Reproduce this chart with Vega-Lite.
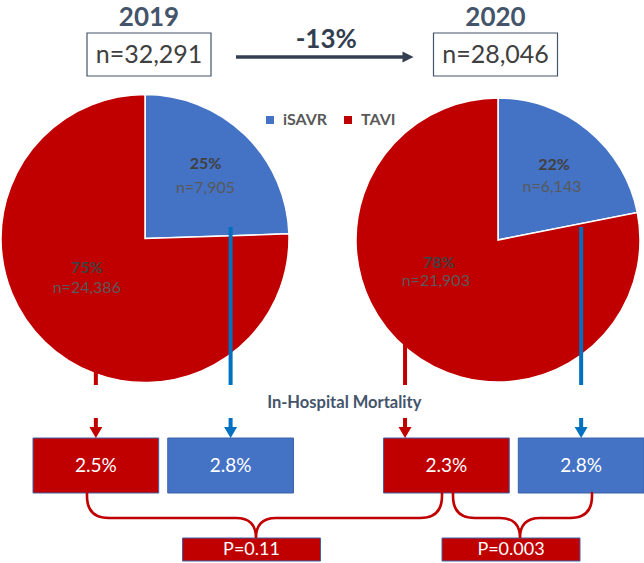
{
  "$schema": "https://vega.github.io/schema/vega-lite/v6.json",
  "width": 644,
  "height": 563,
  "padding": 0,
  "autosize": {"type": "none"},
  "background": "white",
  "config": {"view": {"stroke": null}, "font": "Lato", "axis": {"disable": true}},
  "datasets": {
    "years": [{"year": 2019, "total": 32291}, {"year": 2020, "total": 28046}],
    "change": [{"from": 2019, "to": 2020, "label": "-13%"}],
    "procedures": [
      {"year": 2019, "procedure": "iSAVR", "n": 7905, "share": 0.25, "mortality": 0.028},
      {"year": 2019, "procedure": "TAVI", "n": 24386, "share": 0.75, "mortality": 0.025},
      {"year": 2020, "procedure": "iSAVR", "n": 6143, "share": 0.22, "mortality": 0.028},
      {"year": 2020, "procedure": "TAVI", "n": 21903, "share": 0.78, "mortality": 0.023}
    ],
    "tests": [
      {"comparison": "TAVI 2019 vs 2020", "p": 0.11},
      {"comparison": "TAVI vs iSAVR 2020", "p": 0.003}
    ],
    "notes": [{"label": "In-Hospital Mortality"}]
  },
  "resolve": {"scale": {"x": "independent", "y": "independent"}},
  "layer": [
    {
      "layer": [
        {
          "data": {"name": "procedures"},
          "transform": [{"filter": "datum.year == 2019"}],
          "mark": {"type": "arc", "outerRadius": 144, "stroke": "white", "strokeWidth": 1.5},
          "encoding": {
            "x": {"field": "year", "type": "ordinal", "scale": {"type": "point", "domain": [2019, 2020], "range": [145, 498], "padding": 0}},
            "y": {"field": "year", "type": "ordinal", "scale": {"type": "point", "domain": [2019, 2020], "range": [238.5, 240], "padding": 0}},
            "theta": {"field": "n", "type": "quantitative", "stack": "normalize"},
            "color": {
              "field": "procedure", "type": "nominal",
              "scale": {"domain": ["iSAVR", "TAVI"], "range": ["#4472c4", "#c00000"]},
              "legend": {"title": null, "orient": "none", "legendX": 262, "legendY": 112, "direction": "horizontal", "symbolType": "square", "symbolSize": 64, "symbolStrokeWidth": 0, "labelFontSize": 16, "labelFontWeight": "bold", "labelColor": "#595959", "labelFont": "Lato", "columnPadding": 12, "labelOffset": 5}
            },
            "order": {"field": "procedure", "sort": "descending"}
          }
        },
        {
          "data": {"name": "procedures"},
          "transform": [{"filter": "datum.year == 2020"}],
          "mark": {"type": "arc", "outerRadius": 142, "stroke": "white", "strokeWidth": 1.5},
          "encoding": {
            "x": {"field": "year", "type": "ordinal", "scale": {"type": "point", "domain": [2019, 2020], "range": [145, 498], "padding": 0}},
            "y": {"field": "year", "type": "ordinal", "scale": {"type": "point", "domain": [2019, 2020], "range": [238.5, 240], "padding": 0}},
            "theta": {"field": "n", "type": "quantitative", "stack": "normalize"},
            "color": {"field": "procedure", "type": "nominal", "scale": {"domain": ["iSAVR", "TAVI"], "range": ["#4472c4", "#c00000"]}},
            "order": {"field": "procedure", "sort": "descending"}
          }
        },
        {
          "data": {"name": "procedures"},
          "transform": [{"filter": "datum.year == 2019"}],
          "mark": {"type": "text", "radius": 87, "dy": -12, "fontSize": 16, "fontWeight": "bold", "color": "#404040", "baseline": "middle"},
          "encoding": {
            "x": {"field": "year", "type": "ordinal", "scale": {"type": "point", "domain": [2019, 2020], "range": [145, 498], "padding": 0}},
            "y": {"field": "year", "type": "ordinal", "scale": {"type": "point", "domain": [2019, 2020], "range": [238.5, 240], "padding": 0}},
            "theta": {"field": "n", "type": "quantitative", "stack": "normalize"},
            "order": {"field": "procedure", "sort": "descending"},
            "text": {"condition": {"test": "datum.procedure == 'iSAVR'", "field": "share", "type": "quantitative", "format": ".0%"}, "value": ""}
          }
        },
        {
          "data": {"name": "procedures"},
          "transform": [{"filter": "datum.year == 2019"}],
          "mark": {"type": "text", "radius": 87, "dy": 12, "fontSize": 16, "color": "#595959", "baseline": "middle", "text": {"expr": "datum.procedure == 'iSAVR' ? 'n=' + format(datum.n, ',') : ''"}},
          "encoding": {
            "x": {"field": "year", "type": "ordinal", "scale": {"type": "point", "domain": [2019, 2020], "range": [145, 498], "padding": 0}},
            "y": {"field": "year", "type": "ordinal", "scale": {"type": "point", "domain": [2019, 2020], "range": [238.5, 240], "padding": 0}},
            "theta": {"field": "n", "type": "quantitative", "stack": "normalize"},
            "order": {"field": "procedure", "sort": "descending"}
          }
        },
        {
          "data": {"name": "procedures"},
          "transform": [{"filter": "datum.year == 2019"}],
          "mark": {"type": "text", "radius": 70, "dx": -9.5, "dy": -21, "fontSize": 16, "fontWeight": "bold", "color": "#404040", "baseline": "middle"},
          "encoding": {
            "x": {"field": "year", "type": "ordinal", "scale": {"type": "point", "domain": [2019, 2020], "range": [145, 498], "padding": 0}},
            "y": {"field": "year", "type": "ordinal", "scale": {"type": "point", "domain": [2019, 2020], "range": [238.5, 240], "padding": 0}},
            "theta": {"field": "n", "type": "quantitative", "stack": "normalize"},
            "order": {"field": "procedure", "sort": "descending"},
            "text": {"condition": {"test": "datum.procedure == 'TAVI'", "field": "share", "type": "quantitative", "format": ".0%"}, "value": ""}
          }
        },
        {
          "data": {"name": "procedures"},
          "transform": [{"filter": "datum.year == 2019"}],
          "mark": {"type": "text", "radius": 70, "dx": -9.5, "dy": -1, "fontSize": 16, "color": "#595959", "baseline": "middle", "text": {"expr": "datum.procedure == 'TAVI' ? 'n=' + format(datum.n, ',') : ''"}},
          "encoding": {
            "x": {"field": "year", "type": "ordinal", "scale": {"type": "point", "domain": [2019, 2020], "range": [145, 498], "padding": 0}},
            "y": {"field": "year", "type": "ordinal", "scale": {"type": "point", "domain": [2019, 2020], "range": [238.5, 240], "padding": 0}},
            "theta": {"field": "n", "type": "quantitative", "stack": "normalize"},
            "order": {"field": "procedure", "sort": "descending"}
          }
        },
        {
          "data": {"name": "procedures"},
          "transform": [{"filter": "datum.year == 2020"}],
          "mark": {"type": "text", "radius": 85, "dx": 2, "dy": -9.5, "fontSize": 16, "fontWeight": "bold", "color": "#404040", "baseline": "middle"},
          "encoding": {
            "x": {"field": "year", "type": "ordinal", "scale": {"type": "point", "domain": [2019, 2020], "range": [145, 498], "padding": 0}},
            "y": {"field": "year", "type": "ordinal", "scale": {"type": "point", "domain": [2019, 2020], "range": [238.5, 240], "padding": 0}},
            "theta": {"field": "n", "type": "quantitative", "stack": "normalize"},
            "order": {"field": "procedure", "sort": "descending"},
            "text": {"condition": {"test": "datum.procedure == 'iSAVR'", "field": "share", "type": "quantitative", "format": ".0%"}, "value": ""}
          }
        },
        {
          "data": {"name": "procedures"},
          "transform": [{"filter": "datum.year == 2020"}],
          "mark": {"type": "text", "radius": 85, "dx": 0, "dy": 12.5, "fontSize": 16, "color": "#595959", "baseline": "middle", "text": {"expr": "datum.procedure == 'iSAVR' ? 'n=' + format(datum.n, ',') : ''"}},
          "encoding": {
            "x": {"field": "year", "type": "ordinal", "scale": {"type": "point", "domain": [2019, 2020], "range": [145, 498], "padding": 0}},
            "y": {"field": "year", "type": "ordinal", "scale": {"type": "point", "domain": [2019, 2020], "range": [238.5, 240], "padding": 0}},
            "theta": {"field": "n", "type": "quantitative", "stack": "normalize"},
            "order": {"field": "procedure", "sort": "descending"}
          }
        },
        {
          "data": {"name": "procedures"},
          "transform": [{"filter": "datum.year == 2020"}],
          "mark": {"type": "text", "radius": 68, "dx": -16, "dy": -30, "fontSize": 16, "fontWeight": "bold", "color": "#404040", "baseline": "middle"},
          "encoding": {
            "x": {"field": "year", "type": "ordinal", "scale": {"type": "point", "domain": [2019, 2020], "range": [145, 498], "padding": 0}},
            "y": {"field": "year", "type": "ordinal", "scale": {"type": "point", "domain": [2019, 2020], "range": [238.5, 240], "padding": 0}},
            "theta": {"field": "n", "type": "quantitative", "stack": "normalize"},
            "order": {"field": "procedure", "sort": "descending"},
            "text": {"condition": {"test": "datum.procedure == 'TAVI'", "field": "share", "type": "quantitative", "format": ".0%"}, "value": ""}
          }
        },
        {
          "data": {"name": "procedures"},
          "transform": [{"filter": "datum.year == 2020"}],
          "mark": {"type": "text", "radius": 68, "dx": -19, "dy": -12, "fontSize": 16, "color": "#595959", "baseline": "middle", "text": {"expr": "datum.procedure == 'TAVI' ? 'n=' + format(datum.n, ',') : ''"}},
          "encoding": {
            "x": {"field": "year", "type": "ordinal", "scale": {"type": "point", "domain": [2019, 2020], "range": [145, 498], "padding": 0}},
            "y": {"field": "year", "type": "ordinal", "scale": {"type": "point", "domain": [2019, 2020], "range": [238.5, 240], "padding": 0}},
            "theta": {"field": "n", "type": "quantitative", "stack": "normalize"},
            "order": {"field": "procedure", "sort": "descending"}
          }
        }
      ]
    },
    {
      "layer": [
        {
          "data": {"name": "years"},
          "mark": {"type": "text", "fontSize": 26, "fontWeight": "bold", "color": "#44546a", "baseline": "alphabetic"},
          "encoding": {
            "x": {"field": "year", "type": "quantitative", "scale": {"domain": [2019, 2020], "range": [149, 495.5], "zero": false, "nice": false}},
            "y": {"datum": 26, "type": "quantitative", "scale": {"domain": [0, 563], "range": [0, 563], "zero": false, "nice": false}},
            "text": {"field": "year", "type": "nominal"}
          }
        },
        {
          "data": {"name": "years"},
          "mark": {"type": "rect", "fill": "white", "stroke": "#44546a", "strokeWidth": 1.2, "xOffset": -62, "x2Offset": 62},
          "encoding": {
            "x": {"field": "year", "type": "quantitative", "scale": {"domain": [2019, 2020], "range": [149, 495.5], "zero": false, "nice": false}},
            "x2": {"field": "year"},
            "y": {"datum": 33, "type": "quantitative", "scale": {"domain": [0, 563], "range": [0, 563], "zero": false, "nice": false}},
            "y2": {"datum": 76}
          }
        },
        {
          "data": {"name": "years"},
          "mark": {"type": "text", "fontSize": 25, "color": "#404040", "baseline": "middle", "text": {"expr": "'n=' + format(datum.total, ',')"}},
          "encoding": {
            "x": {"field": "year", "type": "quantitative", "scale": {"domain": [2019, 2020], "range": [149, 495.5], "zero": false, "nice": false}},
            "y": {"datum": 55, "type": "quantitative", "scale": {"domain": [0, 563], "range": [0, 563], "zero": false, "nice": false}}
          }
        },
        {
          "data": {"name": "change"},
          "mark": {"type": "rule", "color": "#333f50", "strokeWidth": 3.5, "xOffset": 87, "x2Offset": -90},
          "encoding": {
            "x": {"field": "from", "type": "quantitative", "scale": {"domain": [2019, 2020], "range": [149, 495.5], "zero": false, "nice": false}},
            "x2": {"field": "to"},
            "y": {"datum": 57, "type": "quantitative", "scale": {"domain": [0, 563], "range": [0, 563], "zero": false, "nice": false}}
          }
        },
        {
          "data": {"name": "change"},
          "mark": {"type": "point", "shape": "M0,0L-11,-5.5L-11,5.5Z", "size": 4, "filled": true, "color": "#333f50", "opacity": 1, "xOffset": -82},
          "encoding": {
            "x": {"field": "to", "type": "quantitative", "scale": {"domain": [2019, 2020], "range": [149, 495.5], "zero": false, "nice": false}},
            "y": {"datum": 57, "type": "quantitative", "scale": {"domain": [0, 563], "range": [0, 563], "zero": false, "nice": false}}
          }
        },
        {
          "data": {"name": "change"},
          "mark": {"type": "text", "fontSize": 26, "fontWeight": "bold", "color": "#333f50", "dx": 4, "baseline": "middle"},
          "encoding": {
            "x": {"datum": 2019.5, "type": "quantitative", "scale": {"domain": [2019, 2020], "range": [149, 495.5], "zero": false, "nice": false}},
            "y": {"datum": 40, "type": "quantitative", "scale": {"domain": [0, 563], "range": [0, 563], "zero": false, "nice": false}},
            "text": {"field": "label", "type": "nominal"}
          }
        },
        {
          "data": {"name": "notes"},
          "mark": {"type": "text", "fontSize": 16.5, "fontWeight": "bold", "color": "#44546a", "dx": 22, "baseline": "middle"},
          "encoding": {
            "x": {"datum": 2019.5, "type": "quantitative", "scale": {"domain": [2019, 2020], "range": [149, 495.5], "zero": false, "nice": false}},
            "y": {"datum": 403, "type": "quantitative", "scale": {"domain": [0, 563], "range": [0, 563], "zero": false, "nice": false}},
            "text": {"field": "label", "type": "nominal"}
          }
        }
      ]
    },
    {
      "layer": [
        {
          "data": {"name": "procedures"},
          "mark": {"type": "rect", "stroke": "#3f63a8", "strokeWidth": 1},
          "encoding": {
            "x": {"field": "year", "type": "ordinal", "scale": {"type": "band", "domain": [2019, 2020], "range": [33, 644], "paddingInner": 0.257, "paddingOuter": 0}},
            "xOffset": {"field": "procedure", "type": "nominal", "scale": {"type": "band", "domain": ["TAVI", "iSAVR"], "paddingInner": 0.067, "paddingOuter": 0}},
            "y": {"datum": 438, "type": "quantitative", "scale": {"domain": [0, 563], "range": [0, 563], "zero": false, "nice": false}},
            "y2": {"datum": 493},
            "color": {"field": "procedure", "type": "nominal", "scale": {"domain": ["iSAVR", "TAVI"], "range": ["#4472c4", "#c00000"]}}
          }
        },
        {
          "data": {"name": "procedures"},
          "mark": {"type": "text", "color": "white", "fontSize": 19, "baseline": "middle"},
          "encoding": {
            "x": {"field": "year", "type": "ordinal", "scale": {"type": "band", "domain": [2019, 2020], "range": [33, 644], "paddingInner": 0.257, "paddingOuter": 0}},
            "xOffset": {"field": "procedure", "type": "nominal", "scale": {"type": "band", "domain": ["TAVI", "iSAVR"], "paddingInner": 0.067, "paddingOuter": 0}},
            "y": {"datum": 466, "type": "quantitative", "scale": {"domain": [0, 563], "range": [0, 563], "zero": false, "nice": false}},
            "text": {"field": "mortality", "type": "quantitative", "format": ".1%"}
          }
        },
        {
          "data": {"name": "procedures"},
          "transform": [{"filter": "datum.procedure == 'iSAVR'"}],
          "mark": {"type": "rule", "strokeWidth": 4},
          "encoding": {
            "x": {"field": "year", "type": "ordinal", "scale": {"type": "band", "domain": [2019, 2020], "range": [33, 644], "paddingInner": 0.257, "paddingOuter": 0}},
            "xOffset": {"field": "procedure", "type": "nominal", "scale": {"type": "band", "domain": ["TAVI", "iSAVR"], "paddingInner": 0.067, "paddingOuter": 0}},
            "y": {"datum": 227, "type": "quantitative", "scale": {"domain": [0, 563], "range": [0, 563], "zero": false, "nice": false}},
            "y2": {"datum": 385},
            "stroke": {"field": "procedure", "type": "nominal", "scale": {"domain": ["iSAVR", "TAVI"], "range": ["#0070c0", "#c00000"]}, "legend": null}
          }
        },
        {
          "data": {"name": "procedures"},
          "transform": [{"filter": "datum.year == 2019 && datum.procedure == 'TAVI'"}],
          "mark": {"type": "rule", "strokeWidth": 4},
          "encoding": {
            "x": {"field": "year", "type": "ordinal", "scale": {"type": "band", "domain": [2019, 2020], "range": [33, 644], "paddingInner": 0.257, "paddingOuter": 0}},
            "xOffset": {"field": "procedure", "type": "nominal", "scale": {"type": "band", "domain": ["TAVI", "iSAVR"], "paddingInner": 0.067, "paddingOuter": 0}},
            "y": {"datum": 335, "type": "quantitative", "scale": {"domain": [0, 563], "range": [0, 563], "zero": false, "nice": false}},
            "y2": {"datum": 385},
            "stroke": {"field": "procedure", "type": "nominal", "scale": {"domain": ["iSAVR", "TAVI"], "range": ["#0070c0", "#c00000"]}, "legend": null}
          }
        },
        {
          "data": {"name": "procedures"},
          "transform": [{"filter": "datum.year == 2020 && datum.procedure == 'TAVI'"}],
          "mark": {"type": "rule", "strokeWidth": 4, "xOffset": 21.5},
          "encoding": {
            "x": {"field": "year", "type": "ordinal", "bandPosition": 0, "scale": {"type": "band", "domain": [2019, 2020], "range": [33, 644], "paddingInner": 0.257, "paddingOuter": 0}},
            "y": {"datum": 335, "type": "quantitative", "scale": {"domain": [0, 563], "range": [0, 563], "zero": false, "nice": false}},
            "y2": {"datum": 385},
            "stroke": {"field": "procedure", "type": "nominal", "scale": {"domain": ["iSAVR", "TAVI"], "range": ["#0070c0", "#c00000"]}, "legend": null}
          }
        },
        {
          "data": {"name": "procedures"},
          "transform": [{"filter": "datum.year == 2019 || datum.procedure == 'iSAVR'"}],
          "mark": {"type": "point", "shape": "M-2,-20H2V-11H6.5L0,0L-6.5,-11H-2Z", "size": 4, "filled": true, "opacity": 1},
          "encoding": {
            "x": {"field": "year", "type": "ordinal", "scale": {"type": "band", "domain": [2019, 2020], "range": [33, 644], "paddingInner": 0.257, "paddingOuter": 0}},
            "xOffset": {"field": "procedure", "type": "nominal", "scale": {"type": "band", "domain": ["TAVI", "iSAVR"], "paddingInner": 0.067, "paddingOuter": 0}},
            "y": {"datum": 438, "type": "quantitative", "scale": {"domain": [0, 563], "range": [0, 563], "zero": false, "nice": false}},
            "fill": {"field": "procedure", "type": "nominal", "scale": {"domain": ["iSAVR", "TAVI"], "range": ["#0070c0", "#c00000"]}, "legend": null}
          }
        },
        {
          "data": {"name": "procedures"},
          "transform": [{"filter": "datum.year == 2020 && datum.procedure == 'TAVI'"}],
          "mark": {"type": "point", "shape": "M-2,-20H2V-11H6.5L0,0L-6.5,-11H-2Z", "size": 4, "filled": true, "opacity": 1, "xOffset": 21.5},
          "encoding": {
            "x": {"field": "year", "type": "ordinal", "bandPosition": 0, "scale": {"type": "band", "domain": [2019, 2020], "range": [33, 644], "paddingInner": 0.257, "paddingOuter": 0}},
            "y": {"datum": 438, "type": "quantitative", "scale": {"domain": [0, 563], "range": [0, 563], "zero": false, "nice": false}},
            "fill": {"field": "procedure", "type": "nominal", "scale": {"domain": ["iSAVR", "TAVI"], "range": ["#0070c0", "#c00000"]}, "legend": null}
          }
        }
      ]
    },
    {
      "layer": [
        {
          "data": {"name": "tests"},
          "mark": {"type": "rect", "fill": "#c00000", "stroke": "#3f63a8", "strokeWidth": 1, "xOffset": -69, "x2Offset": 69},
          "encoding": {
            "x": {"field": "comparison", "type": "nominal", "scale": {"type": "point", "domain": ["TAVI 2019 vs 2020", "TAVI vs iSAVR 2020"], "range": [251.5, 511], "padding": 0}},
            "x2": {"field": "comparison"},
            "y": {"datum": 538, "type": "quantitative", "scale": {"domain": [0, 563], "range": [0, 563], "zero": false, "nice": false}},
            "y2": {"datum": 561}
          }
        },
        {
          "data": {"name": "tests"},
          "mark": {"type": "text", "color": "white", "fontSize": 18, "baseline": "middle", "text": {"expr": "'P=' + datum.p"}},
          "encoding": {
            "x": {"field": "comparison", "type": "nominal", "scale": {"type": "point", "domain": ["TAVI 2019 vs 2020", "TAVI vs iSAVR 2020"], "range": [251.5, 511], "padding": 0}},
            "y": {"datum": 550, "type": "quantitative", "scale": {"domain": [0, 563], "range": [0, 563], "zero": false, "nice": false}}
          }
        },
        {
          "data": {"name": "tests"},
          "mark": {"type": "point", "size": 4, "filled": false, "color": "#c00000", "strokeWidth": 2.6, "opacity": 1, "strokeCap": "round"},
          "encoding": {
            "x": {"field": "comparison", "type": "nominal", "scale": {"type": "point", "domain": ["TAVI 2019 vs 2020", "TAVI vs iSAVR 2020"], "range": [251.5, 511], "padding": 0}},
            "y": {"datum": 538, "type": "quantitative", "scale": {"domain": [0, 563], "range": [0, 563], "zero": false, "nice": false}},
            "shape": {
              "field": "comparison", "type": "nominal", "legend": null,
              "scale": {
                "domain": ["TAVI 2019 vs 2020", "TAVI vs iSAVR 2020"],
                "range": [
                  "M-164.5,-45V-42Q-164.5,-20 -142.5,-20H-15.5Q4.5,-20 4.5,0Q4.5,-20 24.5,-20H168.5Q190.5,-20 190.5,-42V-45",
                  "M-58,-45V-42Q-58,-20 -36,-20H-11Q9,-20 9,0Q9,-20 29,-20H59Q81,-20 81,-42V-45"
                ]
              }
            }
          }
        }
      ]
    }
  ]
}
